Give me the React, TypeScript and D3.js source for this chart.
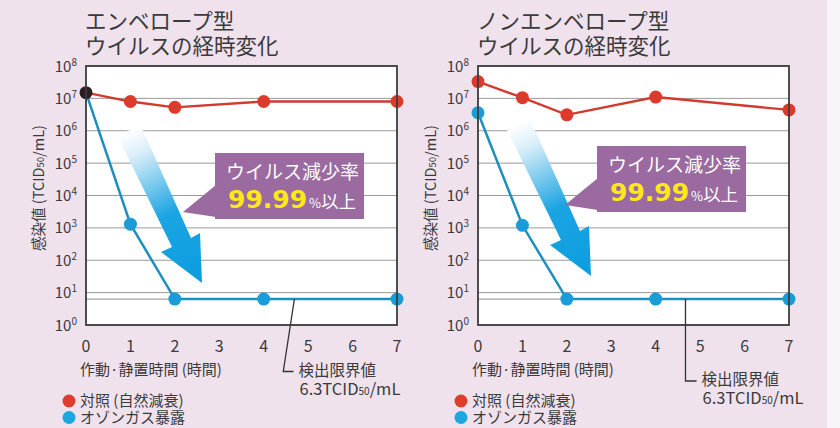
import * as d3 from "d3";

// hours after start of ozone exposure
const hours = [0, 1, 2, 4, 7];
const xTicks = [0, 1, 2, 3, 4, 5, 6, 7];
const yExponents = [0, 1, 2, 3, 4, 5, 6, 7, 8];

// infectious titre, TCID50/mL
const envControl = [1.5e7, 8e6, 5.3e6, 8e6, 8e6];
const envOzone = [1.5e7, 1.3e3, 6.3, 6.3, 6.3];
const nonEnvControl = [3.3e7, 1.05e7, 3.1e6, 1.1e7, 4.4e6];
const nonEnvOzone = [3.6e6, 1.2e3, 6.3, 6.3, 6.3];

const detectionLimit = 6.3;
const legendLabels = ["対照 (自然減衰)", "オゾンガス暴露"];

const FONT = "'Noto Sans CJK JP', 'Noto Sans', sans-serif";
const RED = "#dc3a2b";
const RED_LINE = "#d13a2c";
const BLUE = "#1a9cd8";
const BLUE_LINE = "#1c8fbf";
const PURPLE = "#9a6aa0";
const TEXT = "#3a3a3a";

const PLOT_W = 311;
const PLOT_TOP = 66;
const PLOT_BOTTOM = 325;

// arrow outline, pixels from the plot's top-left corner
const arrowShape: [number, number][] = [
  [31, 69], [55, 60], [105, 172], [114, 167], [116, 217], [75, 186], [86, 181],
];

interface PanelProps {
  id: string;
  ox: number;
  title: string[];
  control: number[];
  ozone: number[];
  arrowOffset: [number, number];
  calloutOffset: [number, number];
  leader: { x: number; bendX: number; endX: number; bendY: number };
}

function Panel({ id, ox, title, control, ozone, arrowOffset, calloutOffset, leader }: PanelProps) {
  const left = ox + 86;
  const x = d3.scaleLinear().domain([0, 7]).range([left, left + PLOT_W]);
  const y = d3.scaleLog().domain([1, 1e8]).range([PLOT_BOTTOM, PLOT_TOP]);

  const line = d3
    .line<number>()
    .x((_, i) => x(hours[i]))
    .y((d) => y(d));

  const [ax, ay] = arrowOffset;
  const arrowPts = arrowShape.map(([px, py]) => [left + px + ax, PLOT_TOP + py + ay]);
  const arrowTop = [(arrowPts[0][0] + arrowPts[1][0]) / 2, (arrowPts[0][1] + arrowPts[1][1]) / 2];
  const arrowTip = arrowPts[4];

  const bx = left + 129 + calloutOffset[0];
  const by = PLOT_TOP + 87 + calloutOffset[1];
  const bw = 149;
  const bh = 66;
  const tail = [
    [bx + 1, by + 32],
    [bx - 32, by + 59],
    [bx + 1, by + 64],
  ];

  const shared = control[0] === ozone[0];
  const ly = y(detectionLimit);

  return (
    <g>
      <defs>
        <linearGradient
          id={`arrow-${id}`}
          gradientUnits="userSpaceOnUse"
          x1={arrowTop[0]}
          y1={arrowTop[1]}
          x2={arrowTip[0]}
          y2={arrowTip[1]}
        >
          <stop offset="0" stopColor="#ffffff" />
          <stop offset="0.15" stopColor="#d9eef9" />
          <stop offset="0.55" stopColor="#1ba4e2" />
          <stop offset="1" stopColor="#0b9de0" />
        </linearGradient>
      </defs>

      {/* title */}
      <text x={left - 1} y={29} fontFamily={FONT} fontSize={21.5} fill={TEXT}>
        {title[0]}
      </text>
      <text x={left - 1} y={54} fontFamily={FONT} fontSize={21.5} fill={TEXT}>
        {title[1]}
      </text>

      {/* plot area */}
      <rect x={left} y={PLOT_TOP} width={PLOT_W} height={PLOT_BOTTOM - PLOT_TOP} fill="#ffffff" />
      {yExponents.map((e) => (
        <line
          key={`g${e}`}
          x1={left}
          x2={left + PLOT_W}
          y1={y(10 ** e)}
          y2={y(10 ** e)}
          stroke="#9a9a9a"
          strokeWidth={1}
        />
      ))}
      <line x1={left} x2={left + PLOT_W} y1={ly} y2={ly} stroke="#a5a5a5" strokeWidth={1.2} />

      {/* decrease arrow */}
      <polygon points={arrowPts.map((p) => p.join(",")).join(" ")} fill={`url(#arrow-${id})`} />

      {/* callout */}
      <polygon points={tail.map((p) => p.join(",")).join(" ")} fill={PURPLE} />
      <rect x={bx} y={by} width={bw} height={bh} fill={PURPLE} />
      <text x={bx + bw / 2 + 3} y={by + 26} textAnchor="middle" fontFamily={FONT} fontSize={19} fill="#ffffff">
        ウイルス減少率
      </text>
      <text x={bx + 13} y={by + 55} fontFamily="'DejaVu Sans', sans-serif" fontWeight="bold" fontSize={25} fill="#ffe81a">
        99.99
        <tspan fontFamily={FONT} fontWeight="normal" fontSize={13} fill="#ffffff" dx={2}>
          %
        </tspan>
        <tspan fontFamily={FONT} fontWeight="normal" fontSize={17.5} fill="#ffffff">
          以上
        </tspan>
      </text>

      {/* series */}
      <path d={line(control) ?? ""} fill="none" stroke={RED_LINE} strokeWidth={2.3} />
      <path d={line(ozone) ?? ""} fill="none" stroke={BLUE_LINE} strokeWidth={2.5} />
      {control.map((v, i) =>
        shared && i === 0 ? null : <circle key={`c${i}`} cx={x(hours[i])} cy={y(v)} r={6.5} fill={RED} />
      )}
      {ozone.map((v, i) =>
        shared && i === 0 ? null : <circle key={`o${i}`} cx={x(hours[i])} cy={y(v)} r={6.5} fill={BLUE} />
      )}
      {shared && <circle cx={x(hours[0])} cy={y(control[0])} r={6.5} fill="#2b1d21" />}

      {/* frame */}
      <rect
        x={left}
        y={PLOT_TOP}
        width={PLOT_W}
        height={PLOT_BOTTOM - PLOT_TOP}
        fill="none"
        stroke="#3c3c3c"
        strokeWidth={1.8}
      />

      {/* y ticks */}
      {yExponents.map((e) => (
        <text
          key={`t${e}`}
          x={left - 9}
          y={y(10 ** e) + 5.5}
          textAnchor="end"
          fontFamily={FONT}
          fontSize={15}
          fill={TEXT}
        >
          10
          <tspan dy={-6} fontSize={10}>
            {e}
          </tspan>
        </text>
      ))}
      <text
        transform={`translate(${ox + 44},188) rotate(-90)`}
        textAnchor="middle"
        fontFamily={FONT}
        fontSize={14.5}
        fill={TEXT}
      >
        感染値 (TCID
        <tspan fontSize={9.5}>50</tspan>
        /mL)
      </text>

      {/* x ticks */}
      {xTicks.map((t) => (
        <text key={`x${t}`} x={x(t)} y={352} textAnchor="middle" fontFamily={FONT} fontSize={16} fill={TEXT}>
          {t}
        </text>
      ))}
      <text x={left - 6} y={375} fontFamily={FONT} fontSize={15} fill={TEXT}>
        作動·静置時間 (時間)
      </text>

      {/* detection limit leader */}
      <polyline
        points={`${x(leader.x)},${ly} ${x(leader.bendX)},${leader.bendY} ${x(leader.endX)},${leader.bendY}`}
        fill="none"
        stroke="#333333"
        strokeWidth={1.3}
      />
      <text x={x(leader.endX) + 5} y={leader.bendY + 4} fontFamily={FONT} fontSize={15.5} fill={TEXT}>
        検出限界値
      </text>
      <text x={x(leader.endX) + 6} y={leader.bendY + 23} fontFamily={FONT} fontSize={16.5} fill={TEXT}>
        6.3TCID
        <tspan fontSize={10}>50</tspan>
        /mL
      </text>

      {/* legend */}
      {legendLabels.map((lab, i) => (
        <g key={lab}>
          <circle cx={left - 17} cy={401 + i * 16.5} r={6.5} fill={i === 0 ? "#e03c2c" : "#1ca6e2"} />
          <text x={left - 6} y={406 + i * 16.5} fontFamily={FONT} fontSize={15} fill={TEXT}>
            {lab}
          </text>
        </g>
      ))}
    </g>
  );
}

export default function App() {
  return (
    <svg
      width={840}
      height={428}
      viewBox="0 0 840 428"
      style={{ position: "absolute", left: 0, top: 0, display: "block" }}
    >
      <rect width={840} height={428} fill="#efe2ed" />
      <rect x={827} width={13} height={428} fill="#f7f3f7" />
      <Panel
        id="env"
        ox={0}
        title={["エンベロープ型", "ウイルスの経時変化"]}
        control={envControl}
        ozone={envOzone}
        arrowOffset={[0, 0]}
        calloutOffset={[0, 0]}
        leader={{ x: 4.69, bendX: 4.44, endX: 4.67, bendY: 371.5 }}
      />
      <Panel
        id="nonenv"
        ox={392}
        title={["ノンエンベロープ型", "ウイルスの経時変化"]}
        control={nonEnvControl}
        ozone={nonEnvOzone}
        arrowOffset={[-3, -7]}
        calloutOffset={[-10, -7]}
        leader={{ x: 4.67, bendX: 4.67, endX: 4.92, bendY: 381 }}
      />
    </svg>
  );
}
